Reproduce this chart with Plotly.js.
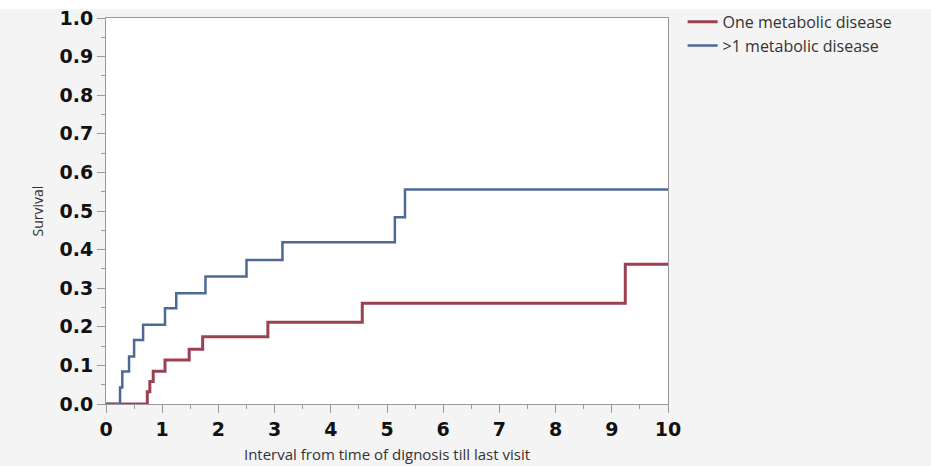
<!DOCTYPE html>
<html>
<head>
<meta charset="utf-8">
<script src="https://cdn.plot.ly/plotly-3.0.1.min.js"></script>
<style>html,body{margin:0;padding:0;background:#f4f4f4;}</style>
</head>
<body>
<div id="chart" style="width:931px;height:466px;"></div>
<script>
// Survival step data
const seriesNames = ["One metabolic disease", ">1 metabolic disease"];
const oneTimes  = [0, 0.735, 0.78, 0.84, 1.05, 1.48, 1.72, 2.88, 4.56, 9.24, 10];
const oneValues = [0, 0.032, 0.058, 0.085, 0.114, 0.142, 0.174, 0.212, 0.261, 0.362, 0.362];
const multiTimes  = [0, 0.25, 0.29, 0.41, 0.50, 0.66, 1.05, 1.25, 1.77, 2.50, 3.14, 5.14, 5.32, 10];
const multiValues = [0, 0.043, 0.084, 0.123, 0.166, 0.205, 0.248, 0.287, 0.330, 0.373, 0.419, 0.484, 0.556, 0.556];
const xTickVals = [0,1,2,3,4,5,6,7,8,9,10];
const yTickVals = [0,0.1,0.2,0.3,0.4,0.5,0.6,0.7,0.8,0.9,1.0];
const yTickText = ["0.0","0.1","0.2","0.3","0.4","0.5","0.6","0.7","0.8","0.9","1.0"];

const traces = [
  {x: oneTimes, y: oneValues, name: seriesNames[0], mode: 'lines', type: 'scatter',
   line: {shape: 'hv', color: '#9a4252', width: 3}, cliponaxis: false},
  {x: multiTimes, y: multiValues, name: seriesNames[1], mode: 'lines', type: 'scatter',
   line: {shape: 'hv', color: '#4d6995', width: 2.5}, cliponaxis: false}
];

const tickFont = {family: 'DejaVu Sans', size: 19, color: '#111', weight: 'bold'};
const layout = {
  width: 931, height: 466,
  margin: {l: 106, r: 263, t: 18, b: 62, autoexpand: false},
  paper_bgcolor: '#f4f4f4',
  plot_bgcolor: '#ffffff',
  showlegend: true,
  legend: {x: 1.026, y: 1.034, xanchor: 'left', yanchor: 'top', bgcolor: 'rgba(0,0,0,0)',
           font: {family: 'Open Sans', size: 16, color: '#333'}, itemwidth: 30, tracegroupgap: 0},
  shapes: [{type: 'rect', xref: 'paper', yref: 'paper', x0: -0.2, x1: 1.5, y0: 1.023, y1: 1.1,
            fillcolor: '#ffffff', line: {width: 0}, layer: 'below'}],
  xaxis: {
    range: [0, 10], tickvals: xTickVals, ticks: 'outside', ticklen: 8, tickcolor: '#999',
    minor: {dtick: 0.5, ticks: 'outside', ticklen: 4, tickcolor: '#999'},
    showline: true, linecolor: '#999', linewidth: 1, mirror: true, showgrid: false, zeroline: false,
    tickfont: tickFont, automargin: false,
    title: {text: 'Interval from time of dignosis till last visit', standoff: 10,
            font: {family: 'Open Sans', size: 15, color: '#333'}}
  },
  yaxis: {
    range: [0, 1], tickvals: yTickVals, ticktext: yTickText, ticks: 'outside', ticklen: 8, tickcolor: '#999',
    minor: {dtick: 0.05, ticks: 'outside', ticklen: 4, tickcolor: '#999'},
    showline: true, linecolor: '#999', linewidth: 1, mirror: true, showgrid: false, zeroline: false,
    tickfont: tickFont, automargin: false,
    title: {text: 'Survival', standoff: 12, font: {family: 'Open Sans', size: 14, color: '#333'}}
  }
};
Plotly.newPlot('chart', traces, layout, {displayModeBar: false, staticPlot: true});
</script>
</body>
</html>
